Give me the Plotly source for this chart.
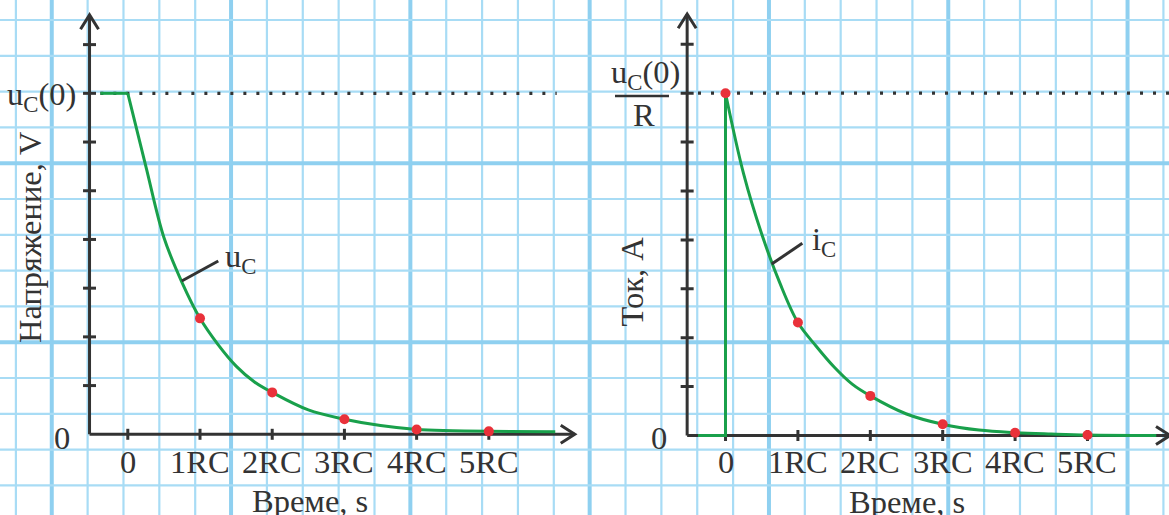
import plotly.graph_objects as go

W, H = 1169, 515

# ---------------- data ----------------
tick_vals = [0, 1, 2, 3, 4, 5]
tick_labels = ["0", "1RC", "2RC", "3RC", "4RC", "5RC"]
y_tick_vals = [1, 2, 3, 4, 5, 6, 7, 8]
U0 = 7.0  # initial level (in tick units)

# capacitor voltage u_C (left)
u_flat_t = [-0.38, 0.0]
u_flat_v = [7.0, 7.0]
u_t = [0.0, 0.25, 0.5, 0.75, 1.0, 1.25, 1.5, 1.75, 2.0, 2.5, 3.0, 3.5, 4.0, 4.5, 5.0, 5.92]
u_v = [7.0, 5.5, 4.04, 3.12, 2.38, 1.84, 1.40, 1.08, 0.86, 0.50, 0.31, 0.18, 0.10, 0.075, 0.06, 0.05]
u_dot_t = [1, 2, 3, 4, 5]
u_dot_v = [2.38, 0.86, 0.31, 0.10, 0.06]

# capacitor current i_C (right)
i_step_t = [-0.38, 0.0, 0.0]
i_step_v = [0.0, 0.0, 7.0]
i_t = [0.0, 0.25, 0.5, 0.75, 1.0, 1.25, 1.5, 1.75, 2.0, 2.5, 3.0, 3.5, 4.0, 4.5, 5.0, 5.95]
i_v = [7.0, 5.35, 4.12, 3.12, 2.31, 1.83, 1.40, 1.05, 0.81, 0.44, 0.23, 0.11, 0.057, 0.03, 0.01, 0.0]
i_dot_t = [0, 1, 2, 3, 4, 5]
i_dot_v = [7.0, 2.31, 0.81, 0.23, 0.057, 0.01]

# ---------------- style ----------------
GREEN = "#19a04b"
RED = "#e9313a"
AX = "#333333"
TXT = "#333333"
FONT = "Liberation Serif"
FS = 32.5
GRID_THIN = "#a8dcf5"
GRID_THICK = "#8fd0f0"

Y_AXIS_X = -0.53  # where the vertical axis crosses (in RC units)


def px2x(px):
    return px / W


def py2y(py):
    return 1 - py / H


fig = go.Figure()


def add_line(t, v, xa, ya, shape="linear"):
    fig.add_trace(go.Scatter(x=t, y=v, mode="lines", xaxis=xa, yaxis=ya,
                             line=dict(color=GREEN, width=3, shape=shape, smoothing=1.0),
                             hoverinfo="skip", showlegend=False))


def add_dots(t, v, xa, ya):
    fig.add_trace(go.Scatter(x=t, y=v, mode="markers", xaxis=xa, yaxis=ya, cliponaxis=False,
                             marker=dict(color=RED, size=10, line=dict(width=0)),
                             hoverinfo="skip", showlegend=False))


add_line(u_flat_t, u_flat_v, "x", "y")
add_line(u_t, u_v, "x", "y", "spline")
add_dots(u_dot_t, u_dot_v, "x", "y")

add_line(i_step_t, i_step_v, "x2", "y2")
add_line(i_t, i_v, "x2", "y2", "spline")
add_dots(i_dot_t, i_dot_v, "x2", "y2")

shapes = []
# --- graph-paper background ---
for k in range(33):
    px = 15.9 + 35.86 * k
    thick = (k % 5 == 1)
    shapes.append(dict(type="line", xref="paper", yref="paper", x0=px2x(px), x1=px2x(px), y0=0, y1=1,
                       line=dict(color=GRID_THICK if thick else GRID_THIN, width=4 if thick else 2.2),
                       layer="below"))
for k in range(14):
    py = 20.0 + 35.8 * k
    thick = (k % 5 == 4)
    shapes.append(dict(type="line", xref="paper", yref="paper", y0=py2y(py), y1=py2y(py), x0=0, x1=1,
                       line=dict(color=GRID_THICK if thick else GRID_THIN, width=4 if thick else 2.2),
                       layer="below"))


def axes_shapes(xr, yr, x_tip, y_tip, dot_start, dot_end):
    s = []
    ln = dict(color=AX, width=3)
    s.append(dict(type="line", xref=xr, yref=yr, x0=dot_start, x1=dot_end, y0=U0, y1=U0,
                  line=dict(color=AX, width=3.3, dash="3px,10px"), layer="below"))
    s.append(dict(type="line", xref=xr, yref=yr, x0=Y_AXIS_X, x1=x_tip, y0=0, y1=0, line=ln, layer="below"))
    s.append(dict(type="line", xref=xr, yref=yr, x0=Y_AXIS_X, x1=Y_AXIS_X, y0=0, y1=y_tip, line=ln, layer="below"))
    for t in tick_vals:
        s.append(dict(type="line", xref=xr, yref=yr, x0=t, x1=t, ysizemode="pixel", yanchor=0,
                      y0=-5.5, y1=5.5, line=ln, layer="below"))
    for v in y_tick_vals:
        s.append(dict(type="line", xref=xr, yref=yr, y0=v, y1=v, xsizemode="pixel", xanchor=Y_AXIS_X,
                      x0=-6.5, x1=6.5, line=ln, layer="below"))
    s.append(dict(type="path", xref=xr, yref=yr, xsizemode="pixel", ysizemode="pixel",
                  xanchor=x_tip, yanchor=0, path="M-14,9 L0,0 L-14,-9",
                  line=ln, fillcolor="rgba(0,0,0,0)", layer="below"))
    s.append(dict(type="path", xref=xr, yref=yr, xsizemode="pixel", ysizemode="pixel",
                  xanchor=Y_AXIS_X, yanchor=y_tip, path="M-9,-14.3 L0,0 L9,-14.3",
                  line=ln, fillcolor="rgba(0,0,0,0)", layer="below"))
    return s


shapes += axes_shapes("x", "y", 6.19, 8.61, -0.38, 5.94)
shapes += axes_shapes("x2", "y2", 6.14, 8.62, -0.38, 6.3)

# leader lines for the curve labels
shapes.append(dict(type="line", xref="x", yref="y", x0=0.747, y0=3.147, x1=1.253, y1=3.558,
                   line=dict(color=AX, width=3)))
shapes.append(dict(type="line", xref="x2", yref="y2", x0=0.638, y0=3.507, x1=1.061, y1=3.93,
                   line=dict(color=AX, width=3)))
# fraction bar of u_C(0)/R
shapes.append(dict(type="line", xref="paper", yref="paper", x0=px2x(615), x1=px2x(669),
                   y0=py2y(96), y1=py2y(96), line=dict(color=AX, width=2.5)))

ann = []
f = dict(family=FONT, size=FS, color=TXT)


def txt(text, px, py, xanchor="center", yanchor="middle", angle=0):
    ann.append(dict(text=text, x=px2x(px), y=py2y(py), xref="paper", yref="paper",
                    xanchor=xanchor, yanchor=yanchor, showarrow=False, font=f, textangle=angle))


for t, lab in zip(tick_vals, tick_labels):
    ann.append(dict(text=lab, x=t, y=py2y(461.7), xref="x", yref="paper", showarrow=False,
                    xanchor="center", yanchor="middle", font=f))
    ann.append(dict(text=lab, x=t, y=py2y(461.7), xref="x2", yref="paper", showarrow=False,
                    xanchor="center", yanchor="middle", font=f))

txt("0", 62, 437.5)
txt("0", 659, 437.5)
txt("Време, s", 309.5, 501)
txt("Време, s", 907, 502)
txt("Напряжение, V", 29.5, 237.5, angle=-90)
txt("Ток, А", 631.5, 282, angle=-90)
txt("u<sub>C</sub>(0)", 78, 97, xanchor="right")
txt("u<sub>C</sub>(0)", 645, 75)
txt("R", 644, 115)
txt("u<sub>C</sub>", 223, 258, xanchor="left")
txt("i<sub>C</sub>", 810, 242, xanchor="left")

# axis ranges derived from pixel layout of the reference
fig.update_layout(
    width=W, height=H, margin=dict(l=0, r=0, t=0, b=0),
    paper_bgcolor="white", plot_bgcolor="rgba(0,0,0,0)",
    xaxis=dict(domain=[0, 0.5], range=[-1.770, 6.325], visible=False, fixedrange=True),
    yaxis=dict(domain=[0, 1], range=[-1.657, 8.916], visible=False, fixedrange=True),
    xaxis2=dict(domain=[0.5, 1], range=[-1.948, 6.126], visible=False, anchor="y2", fixedrange=True),
    yaxis2=dict(domain=[0, 1], range=[-1.626, 8.906], visible=False, anchor="x2", fixedrange=True),
    shapes=shapes, annotations=ann, showlegend=False,
)

fig.write_html("out.html",
               config={"displayModeBar": False},
               post_script="document.body.style.margin='0px';document.body.style.padding='0px';"
                           "document.body.style.overflow='hidden';")
